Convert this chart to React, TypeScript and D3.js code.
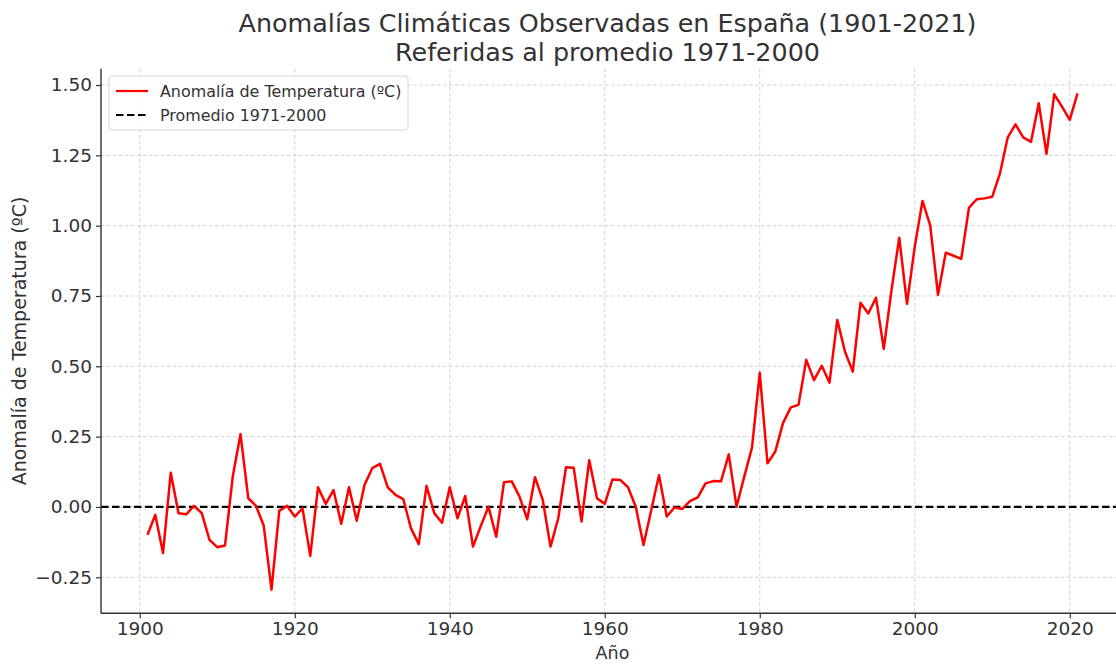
import React, { useRef, useEffect } from 'react';
import * as d3 from 'd3';

// Años 1901-2021
const years: number[] = d3.range(1901, 2022);

// Anomalía de temperatura (ºC) respecto a 1971-2000
const anomalies: number[] = [
  -0.099, -0.028, -0.164, 0.122, -0.022, -0.026, 0.004, -0.022, -0.117, -0.143,
  -0.137, 0.108, 0.259, 0.031, 0.004, -0.067, -0.294, -0.014, 0.004, -0.034,
  -0.005, -0.174, 0.07, 0.011, 0.06, -0.06, 0.07, -0.049, 0.078, 0.138,
  0.153, 0.07, 0.043, 0.028, -0.076, -0.132, 0.075, -0.022, -0.056, 0.07,
  -0.04, 0.039, -0.141, -0.068, 0.001, -0.106, 0.088, 0.091, 0.037, -0.044,
  0.106, 0.025, -0.141, -0.04, 0.141, 0.139, -0.052, 0.166, 0.031, 0.011,
  0.098, 0.096, 0.07, 0.001, -0.135, -0.011, 0.113, -0.034, -0.002, -0.007,
  0.021, 0.034, 0.084, 0.092, 0.091, 0.187, 0.001, 0.108, 0.211, 0.477,
  0.155, 0.197, 0.298, 0.354, 0.363, 0.523, 0.451, 0.502, 0.442, 0.665,
  0.552, 0.481, 0.726, 0.688, 0.744, 0.562, 0.771, 0.957, 0.722, 0.925,
  1.088, 1.0, 0.754, 0.904, 0.893, 0.882, 1.064, 1.094, 1.097, 1.103,
  1.186, 1.314, 1.36, 1.314, 1.298, 1.435, 1.255, 1.467, 1.423, 1.376,
  1.47,
];

const xTicks: number[] = [1900, 1920, 1940, 1960, 1980, 2000, 2020];
const yTicks: number[] = [-0.25, 0, 0.25, 0.5, 0.75, 1.0, 1.25, 1.5];

const titleLines: string[] = [
  'Anomalías Climáticas Observadas en España (1901-2021)',
  'Referidas al promedio 1971-2000',
];
const legendLabels: string[] = ['Anomalía de Temperatura (ºC)', 'Promedio 1971-2000'];

const WIDTH = 1116;
const HEIGHT = 664;
const FONT = '"DejaVu Sans", sans-serif';
const TEXT = '#333333';

const App: React.FC = () => {
  const svgRef = useRef<SVGSVGElement>(null);

  useEffect(() => {
    if (!svgRef.current) return;
    const root = d3.select(svgRef.current);
    root.selectAll('*').remove();

    const left = 101;
    const right = 1124;
    const top = 68.7;
    const bottom = 613.3;

    const x = d3.scaleLinear().domain([1895, 2027]).range([left, right]);
    const y = d3.scaleLinear().domain([-0.378, 1.558]).range([bottom, top]);

    root.append('rect').attr('width', WIDTH).attr('height', HEIGHT).attr('fill', '#fff');

    // Rejilla
    const grid = root.append('g');
    grid.selectAll('.gx')
      .data(xTicks)
      .enter()
      .append('line')
      .attr('x1', (d) => x(d))
      .attr('x2', (d) => x(d))
      .attr('y1', top)
      .attr('y2', bottom)
      .attr('stroke', '#cccccc')
      .attr('stroke-width', 0.9)
      .attr('stroke-dasharray', '3.5,2.5');
    grid.selectAll('.gy')
      .data(yTicks)
      .enter()
      .append('line')
      .attr('x1', left)
      .attr('x2', right)
      .attr('y1', (d) => y(d))
      .attr('y2', (d) => y(d))
      .attr('stroke', '#cccccc')
      .attr('stroke-width', 0.9)
      .attr('stroke-dasharray', '3.5,2.5');

    // Línea de referencia
    root.append('line')
      .attr('x1', left)
      .attr('x2', right)
      .attr('y1', y(0))
      .attr('y2', y(0))
      .attr('stroke', '#000')
      .attr('stroke-width', 2.2)
      .attr('stroke-dasharray', '7.5,3.5');

    // Serie
    const line = d3.line<number>()
      .x((_, i) => x(years[i]))
      .y((d) => y(d));
    root.append('path')
      .datum(anomalies)
      .attr('d', line)
      .attr('fill', 'none')
      .attr('stroke', '#ff0000')
      .attr('stroke-width', 2.5)
      .attr('stroke-linejoin', 'round');

    // Ejes
    const xAxis = root.append('g')
      .attr('transform', `translate(0,${bottom})`)
      .call(d3.axisBottom(x).tickValues(xTicks).tickFormat(d3.format('d')).tickSize(5).tickPadding(4));
    const yAxis = root.append('g')
      .attr('transform', `translate(${left},0)`)
      .call(d3.axisLeft(y).tickValues(yTicks).tickFormat(d3.format('.2f')).tickSize(5).tickPadding(4));

    [xAxis, yAxis].forEach((ax) => {
      ax.select('.domain').remove();
      ax.selectAll('line').attr('stroke', TEXT).attr('stroke-width', 1.2);
      ax.selectAll('text').attr('fill', TEXT).attr('font-size', 18.5).attr('font-family', FONT);
    });

    // Ejes visibles: izquierda y abajo
    root.append('line')
      .attr('x1', left).attr('x2', left).attr('y1', top).attr('y2', bottom)
      .attr('stroke', TEXT).attr('stroke-width', 1.4);
    root.append('line')
      .attr('x1', left).attr('x2', right).attr('y1', bottom).attr('y2', bottom)
      .attr('stroke', TEXT).attr('stroke-width', 1.4);

    // Títulos
    const title = root.append('text')
      .attr('text-anchor', 'middle')
      .attr('font-family', FONT)
      .attr('font-size', 25.4)
      .attr('fill', TEXT);
    titleLines.forEach((t, i) => {
      title.append('tspan').attr('x', 607.5).attr('y', 31.5 + i * 29).text(t);
    });

    root.append('text')
      .attr('x', (left + right) / 2)
      .attr('y', 659)
      .attr('text-anchor', 'middle')
      .attr('font-family', FONT)
      .attr('font-size', 17.5)
      .attr('fill', TEXT)
      .text('Año');

    root.append('text')
      .attr('transform', `translate(25.5,${(top + bottom) / 2}) rotate(-90)`)
      .attr('text-anchor', 'middle')
      .attr('font-family', FONT)
      .attr('font-size', 19)
      .attr('fill', TEXT)
      .text('Anomalía de Temperatura (ºC)');

    // Leyenda
    const legend = root.append('g').attr('transform', 'translate(109,76)');
    legend.append('rect')
      .attr('width', 299)
      .attr('height', 54)
      .attr('rx', 3)
      .attr('fill', '#fff')
      .attr('fill-opacity', 0.8)
      .attr('stroke', '#d6d6d6');
    const styles = [
      { color: '#ff0000', dash: null as string | null },
      { color: '#000000', dash: '7.5,3.5' },
    ];
    legendLabels.forEach((label, i) => {
      const cy = 15 + i * 24;
      legend.append('line')
        .attr('x1', 7).attr('x2', 39).attr('y1', cy).attr('y2', cy)
        .attr('stroke', styles[i].color)
        .attr('stroke-width', 2.2)
        .attr('stroke-dasharray', styles[i].dash);
      legend.append('text')
        .attr('x', 51)
        .attr('y', cy + 5.5)
        .attr('font-family', FONT)
        .attr('font-size', 15.9)
        .attr('fill', TEXT)
        .text(label);
    });
  }, []);

  return (
    <svg
      ref={svgRef}
      width={WIDTH}
      height={HEIGHT}
      style={{ position: 'absolute', left: 0, top: 0, display: 'block', overflow: 'hidden' }}
    />
  );
};

export default App;
